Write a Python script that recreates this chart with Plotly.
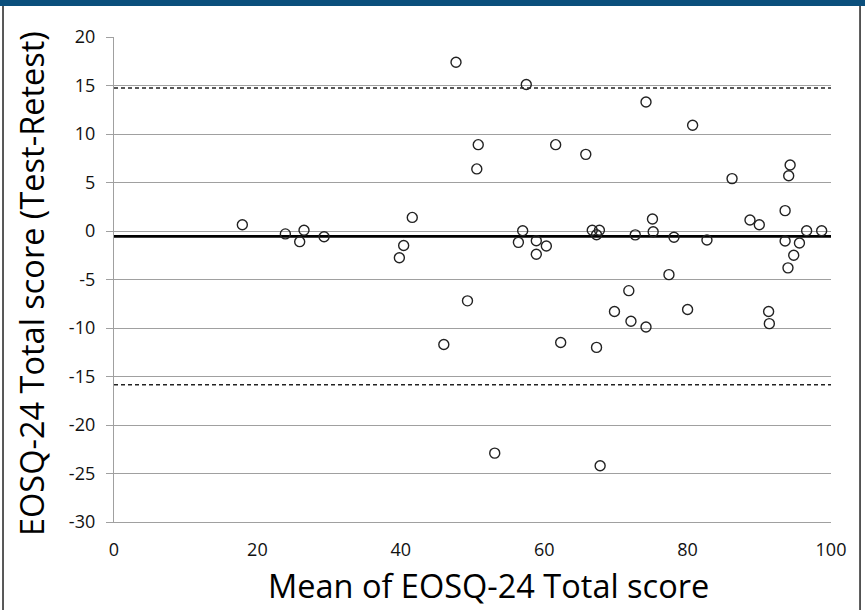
import plotly.graph_objects as go

# Data (Bland-Altman plot)
mean_score = [17.9, 23.9, 25.9, 26.5, 29.3, 39.8, 40.4, 41.6, 46.0, 47.7,
              49.3, 50.6, 50.8, 53.1, 56.4, 57.0, 57.5, 58.9, 58.9, 60.3,
              61.6, 62.3, 65.8, 66.7, 67.3, 67.3, 67.7, 67.8, 69.8, 71.8,
              72.1, 72.7, 74.2, 74.2, 75.1, 75.2, 77.4, 78.1, 80.0, 80.7,
              82.7, 86.2, 88.7, 90.0, 91.3, 91.4, 93.6, 93.6, 94.0, 94.1,
              94.3, 94.8, 95.6, 96.6, 98.7]
diff_score = [0.65, -0.3, -1.1, 0.07, -0.6, -2.75, -1.5, 1.4, -11.7, 17.4,
              -7.2, 6.4, 8.9, -22.9, -1.17, 0.03, 15.1, -1.0, -2.4, -1.55,
              8.9, -11.5, 7.9, 0.07, -0.38, -12.0, 0.07, -24.2, -8.3, -6.15,
              -9.3, -0.4, 13.3, -9.9, 1.24, -0.07, -4.5, -0.65, -8.1, 10.9,
              -0.93, 5.4, 1.13, 0.65, -8.3, -9.55, 2.1, -1.03, -3.8, 5.7,
              6.8, -2.5, -1.24, 0.03, 0.03]
mean_diff = -0.55
upper_loa = 14.75
lower_loa = -15.85
line_x = [0, 100]
x_ticks = [0, 20, 40, 60, 80, 100]
y_ticks = [20, 15, 10, 5, 0, -5, -10, -15, -20, -25, -30]
y_tick_labels = ["20", "15", "10", "5", "0", "-5", "-10", "-15", "-20", "-25", "-30"]

FONT = "Open Sans"
GRID = "#a0a0a0"

fig = go.Figure()
fig.add_trace(go.Scatter(x=line_x, y=[upper_loa, upper_loa], mode="lines",
                         line=dict(color="#222222", width=1.5, dash="4px,3px"),
                         hoverinfo="skip", showlegend=False))
fig.add_trace(go.Scatter(x=line_x, y=[lower_loa, lower_loa], mode="lines",
                         line=dict(color="#222222", width=1.5, dash="4px,3px"),
                         hoverinfo="skip", showlegend=False))
fig.add_trace(go.Scatter(x=line_x, y=[mean_diff, mean_diff], mode="lines",
                         line=dict(color="#000000", width=2.6),
                         hoverinfo="skip", showlegend=False))
fig.add_trace(go.Scatter(x=mean_score, y=diff_score, mode="markers",
                         marker=dict(symbol="circle-open", size=10,
                                     color="#222222", line=dict(width=1.4)),
                         showlegend=False))

fig.update_layout(
    width=865, height=610,
    margin=dict(l=114, r=34, t=37, b=88),
    paper_bgcolor="white", plot_bgcolor="white",
    font=dict(family=FONT, color="#000000"),
    xaxis=dict(range=[0, 100], tickvals=x_ticks, showgrid=False,
               zeroline=False, showline=True, linecolor=GRID, linewidth=1.3,
               ticks="", tickfont=dict(size=18, family=FONT, color="#111111"),
               ticklabelstandoff=11),
    yaxis=dict(range=[-30, 20], tickvals=y_ticks, ticktext=y_tick_labels,
               showgrid=True,
               gridcolor=GRID, gridwidth=1.3, zeroline=False,
               showline=True, linecolor=GRID, linewidth=1.3,
               ticks="outside", ticklen=7, tickcolor=GRID, tickwidth=1.3,
               tickfont=dict(size=18, family=FONT, color="#111111"),
               ticklabelstandoff=7),
    annotations=[
        dict(text="Mean of EOSQ-24 Total score", xref="paper", yref="paper",
             x=0.523, y=-0.13, xanchor="center", yanchor="middle",
             showarrow=False, font=dict(size=32.5, family=FONT, color="#000000")),
        dict(text="EOSQ-24 Total score (Test-Retest)", xref="paper", yref="paper",
             x=-0.1144, y=0.4928, xanchor="center", yanchor="middle",
             textangle=-90, showarrow=False,
             font=dict(size=32.5, family=FONT, color="#000000")),
    ],
    shapes=[
        dict(type="rect", xref="paper", yref="paper", x0=-0.2, x1=1.1,
             y0=1.064, y1=1.1, fillcolor="#0b4f7c", line=dict(width=0), layer="above"),
        dict(type="line", xref="paper", yref="paper", x0=-0.1548, x1=-0.1548,
             y0=-0.3, y1=1.064, line=dict(color="#222222", width=1.5)),
        dict(type="line", xref="paper", yref="paper", x0=1.0405, x1=1.0405,
             y0=-0.3, y1=1.064, line=dict(color="#222222", width=1.5)),
    ],
)

fig.write_html("out.html", config={"displayModeBar": False},
               post_script="document.body.style.margin='0';document.body.style.padding='0';")
